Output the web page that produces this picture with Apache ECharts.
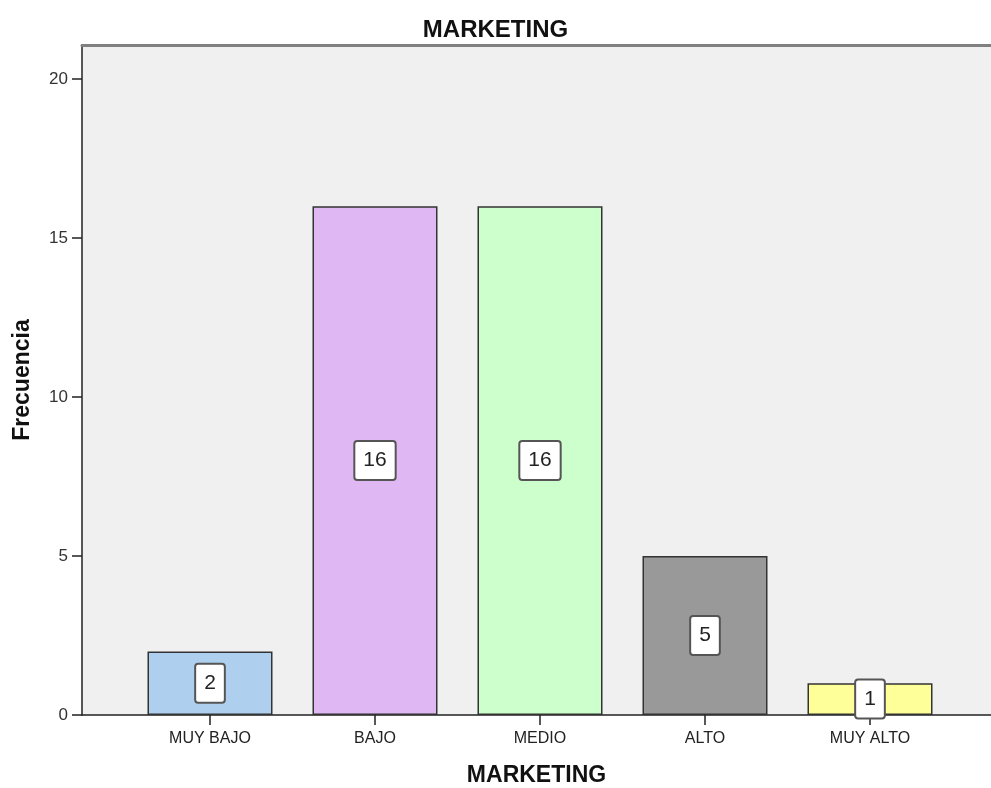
<!DOCTYPE html>
<html>
<head>
<meta charset="utf-8">
<script src="https://cdn.jsdelivr.net/npm/echarts@6/dist/echarts.min.js"></script>
<style>
html,body{margin:0;padding:0;background:#fff;}
#chart{width:991px;height:788px;}
</style>
</head>
<body>
<div id="chart"></div>
<script>
const categories = ['MUY BAJO', 'BAJO', 'MEDIO', 'ALTO', 'MUY ALTO'];
const frequencies = [2, 16, 16, 5, 1];
const barColors = ['#aed0ee', '#dfb8f3', '#ccffcc', '#999999', '#ffff99'];
const yTicks = [0, 5, 10, 15, 20];
const chartTitle = 'MARKETING';
const xAxisTitle = 'MARKETING';
const yAxisTitle = 'Frecuencia';

const Y_MAX = 21.07;
const FONT = 'Arial, "Liberation Sans", sans-serif';

const chart = echarts.init(document.getElementById('chart'), null, {renderer: 'canvas'});

const option = {
  animation: false,
  backgroundColor: '#ffffff',
  title: {
    text: chartTitle,
    left: 'center',
    top: 13,
    textStyle: {fontFamily: FONT, fontSize: 24, fontWeight: 'bold', color: '#111'}
  },
  grid: [
    {left: 82, right: 0, top: 45, bottom: 73, show: true, backgroundColor: '#f0f0f0', borderWidth: 0,
     containLabel: false, outerBoundsMode: 'none'},
    {left: 127.5, width: 825, top: 45, bottom: 73, containLabel: false, outerBoundsMode: 'none'}
  ],
  xAxis: [
    {
      gridIndex: 0, type: 'value', min: 0, max: 1, position: 'bottom',
      axisLine: {show: true, lineStyle: {color: '#222', width: 1.5}},
      axisTick: {show: false}, axisLabel: {show: false}, splitLine: {show: false},
      name: xAxisTitle, nameLocation: 'middle', nameGap: 49,
      nameTextStyle: {fontFamily: FONT, fontSize: 23, fontWeight: 'bold', color: '#111'}
    },
    {
      gridIndex: 0, type: 'value', min: 0, max: 1, position: 'top',
      axisLine: {show: true, lineStyle: {color: '#808080', width: 3}},
      axisTick: {show: false}, axisLabel: {show: false}, splitLine: {show: false}
    },
    {
      gridIndex: 1, type: 'category', data: categories, position: 'bottom',
      axisLine: {show: false},
      axisTick: {show: true, alignWithLabel: true, length: 10, lineStyle: {color: '#222', width: 1.5}},
      axisLabel: {fontFamily: FONT, fontSize: 16, color: '#222', margin: 16}
    }
  ],
  yAxis: [
    {
      gridIndex: 0, type: 'value', min: 0, max: Y_MAX, interval: 5,
      axisLine: {show: true, lineStyle: {color: '#222', width: 1.5}},
      axisTick: {show: true, length: 10, customValues: yTicks, lineStyle: {color: '#222', width: 1.5}},
      axisLabel: {customValues: yTicks, fontFamily: FONT, fontSize: 17, color: '#333', margin: 14},
      splitLine: {show: false},
      name: yAxisTitle, nameLocation: 'middle', nameGap: 48, nameRotate: 90,
      nameTextStyle: {fontFamily: FONT, fontSize: 23, fontWeight: 'bold', color: '#111'}
    },
    {
      gridIndex: 1, type: 'value', min: 0, max: Y_MAX, show: false, splitLine: {show: false}
    }
  ],
  series: [{
    type: 'bar',
    xAxisIndex: 2,
    yAxisIndex: 1,
    barWidth: 125,
    data: frequencies.map((v, i) => ({
      value: v,
      itemStyle: {color: barColors[i]}
    })),
    itemStyle: {borderColor: '#333', borderWidth: 1.5},
    label: {
      show: true,
      position: 'inside',
      fontFamily: FONT,
      fontSize: 21,
      color: '#222',
      backgroundColor: '#ffffff',
      borderColor: '#555',
      borderWidth: 2,
      borderRadius: 2,
      padding: [9, 8, 7, 8]
    }
  }]
};
chart.setOption(option);
</script>
</body>
</html>
